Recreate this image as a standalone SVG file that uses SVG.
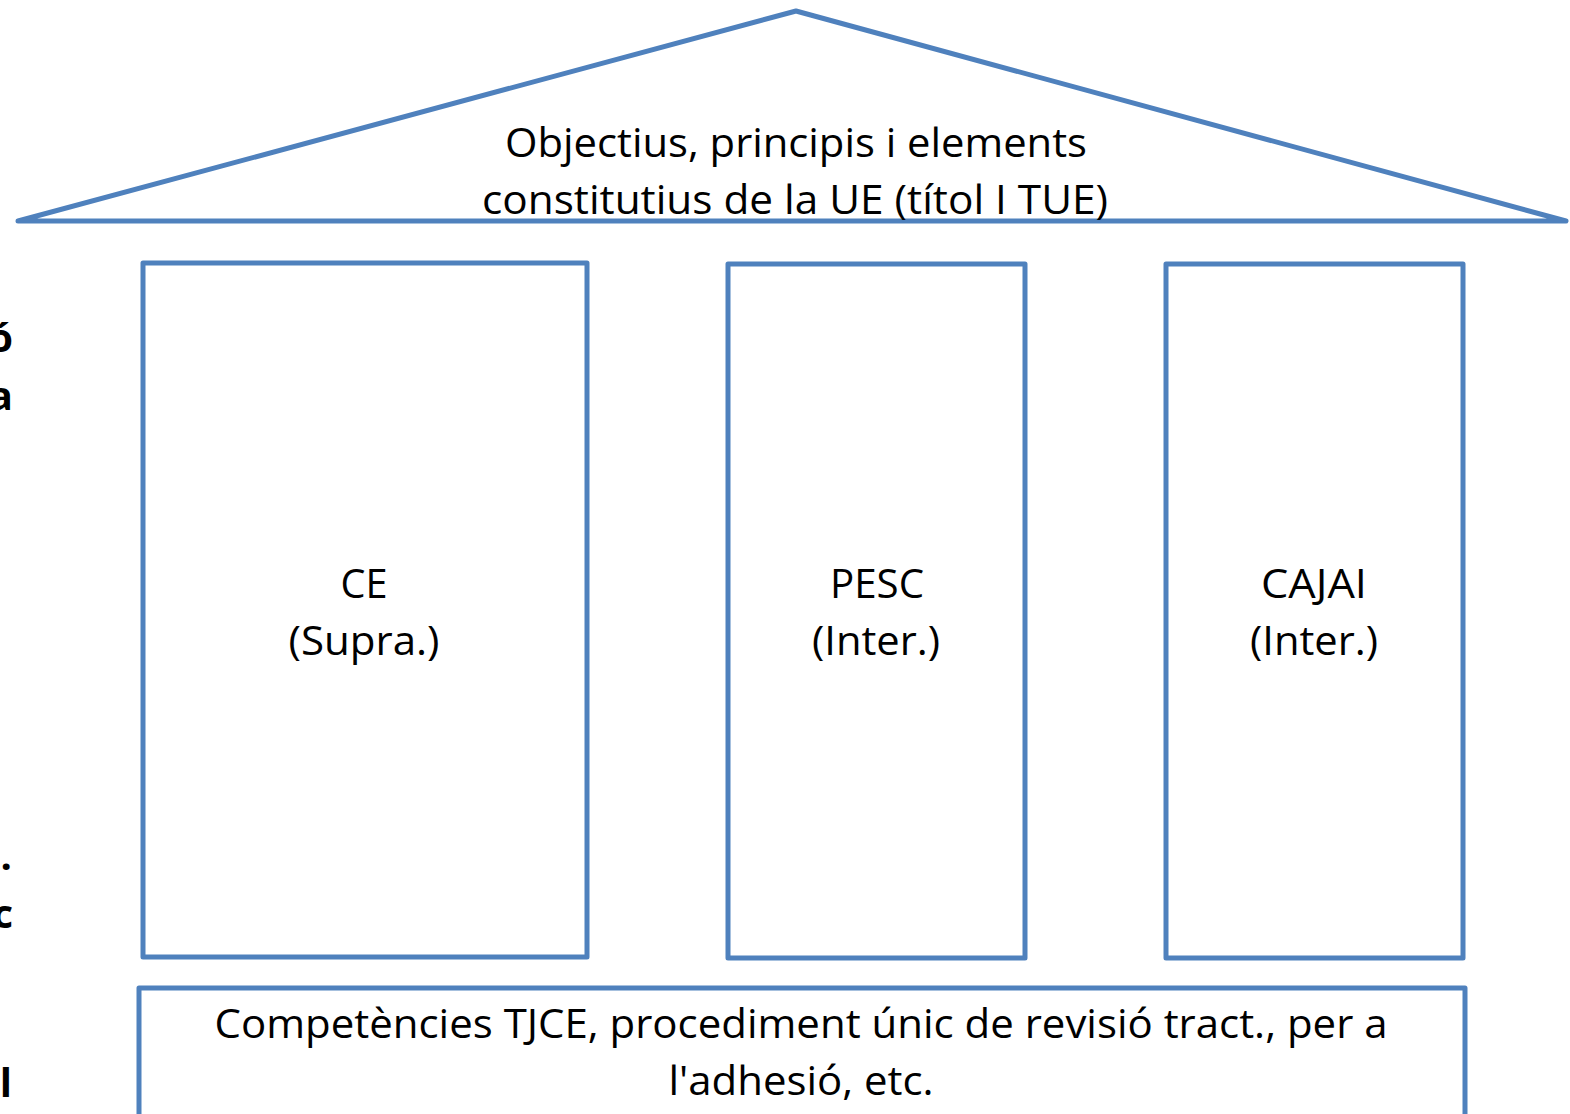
<svg xmlns="http://www.w3.org/2000/svg" width="1570" height="1114" viewBox="0 0 1570 1114">
<style>
.shape{fill:none;stroke:#4F81BD;stroke-width:5;stroke-linejoin:round}
.t{font-family:"Open Sans","Lato","Liberation Sans",sans-serif;font-size:40px;fill:#000;text-anchor:middle}
.b{font-family:"Open Sans","Liberation Sans",sans-serif;font-size:40px;font-weight:bold;fill:#000;text-anchor:end}
</style>
<rect width="1570" height="1114" fill="#fff"/>
<g id="roof">
<polygon class="shape" points="18,221 796,11 1566,221"/>
<text class="t" x="796" y="157" textLength="582" lengthAdjust="spacingAndGlyphs">Objectius, principis i elements</text>
<text class="t" x="795" y="214" textLength="626" lengthAdjust="spacingAndGlyphs">constitutius de la UE (títol I TUE)</text>
</g>
<g id="ce">
<rect class="shape" x="143" y="263" width="444" height="694"/>
<text class="t" x="364" y="598" textLength="47" lengthAdjust="spacingAndGlyphs">CE</text>
<text class="t" x="364" y="655" textLength="151" lengthAdjust="spacingAndGlyphs">(Supra.)</text>
</g>
<g id="pesc">
<rect class="shape" x="728" y="264" width="297" height="694"/>
<text class="t" x="877" y="598" textLength="94" lengthAdjust="spacingAndGlyphs">PESC</text>
<text class="t" x="876" y="655" textLength="128" lengthAdjust="spacingAndGlyphs">(Inter.)</text>
</g>
<g id="cajai">
<rect class="shape" x="1166" y="264" width="297" height="694"/>
<text class="t" x="1314" y="598" textLength="106" lengthAdjust="spacingAndGlyphs">CAJAI</text>
<text class="t" x="1314" y="655" textLength="128" lengthAdjust="spacingAndGlyphs">(Inter.)</text>
</g>
<g id="base">
<rect class="shape" x="139" y="988" width="1326" height="140"/>
<text class="t" x="801" y="1038" textLength="1173" lengthAdjust="spacingAndGlyphs">Competències TJCE, procediment únic de revisió tract., per a</text>
<text class="t" x="801" y="1095" textLength="265" lengthAdjust="spacingAndGlyphs">l'adhesió, etc.</text>
</g>
<g id="left-fragments">
<text class="b" x="13" y="352">ó</text>
<text class="b" x="13" y="410">a</text>
<text class="b" x="12" y="870">.</text>
<text class="b" x="13" y="928">c</text>
<text class="b" x="12" y="1097">l</text>
</g>
<g id="connectors"></g>
</svg>
